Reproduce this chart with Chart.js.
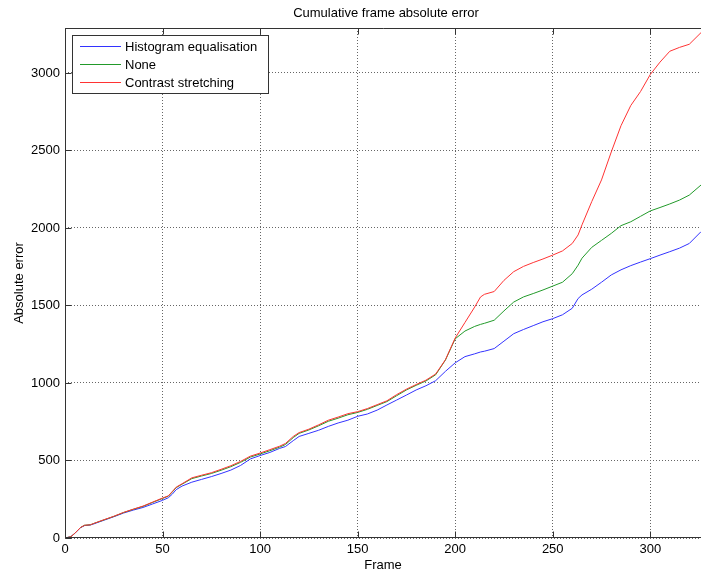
<!DOCTYPE html>
<html>
<head>
<meta charset="utf-8">
<title>Cumulative frame absolute error</title>
<script src="https://cdn.jsdelivr.net/npm/chart.js@4.4.0/dist/chart.umd.min.js"></script>
<style>
  html, body { margin: 0; padding: 0; background: #fff; overflow: hidden; }
  #wrap { position: relative; width: 701px; height: 574px; }
</style>
</head>
<body>
<div id="wrap"><canvas id="c" width="701" height="574"></canvas></div>
<script>
// Frame numbers at which the cumulative error was sampled
const frames = [0,3,5,8,10,13,15,20,25,30,35,40,45,50,53,55,57,60,65,70,75,80,85,90,95,100,
  105,110,113,117,120,125,130,135,140,145,150,155,160,165,170,175,180,185,190,195,200,
  205,210,213,215,220,225,230,235,240,245,250,255,260,263,265,270,275,280,285,290,295,300,
  305,310,315,320,326];

// Cumulative absolute error per pre-processing method
const histEq = [0,8,30,67,80,84,92,115,137,161,180,197,220,243,260,283,312,335,360,378,396,416,438,468,510,532,
  552,578,590,628,655,675,695,720,742,760,785,800,825,858,890,922,955,982,1015,1075,1130,
  1170,1188,1200,1205,1222,1270,1318,1345,1370,1395,1415,1440,1482,1545,1568,1605,1650,1697,1730,1757,1780,1802,
  1825,1847,1870,1900,1976];

const none = [0,8,30,68,82,85,95,117,139,164,185,204,230,255,270,297,325,347,383,400,416,437,460,488,522,542,
  563,586,603,648,675,697,724,753,773,795,810,830,855,880,918,955,985,1013,1053,1148,1285,
  1335,1365,1378,1385,1405,1465,1522,1555,1577,1600,1625,1650,1705,1760,1805,1875,1920,1965,2015,2040,2075,2110,
  2132,2155,2180,2212,2277];

const contrast = [0,8,30,68,82,85,95,118,140,165,186,206,232,258,272,300,328,350,388,405,421,443,466,494,528,548,
  570,592,610,655,680,702,730,760,780,802,815,835,860,885,925,960,990,1018,1058,1150,1290,
  1390,1490,1555,1572,1590,1662,1718,1752,1777,1800,1825,1852,1900,1955,2020,2170,2310,2490,2660,2790,2880,2990,
  3070,3140,3165,3185,3260];

const seriesNames = ['Histogram equalisation', 'None', 'Contrast stretching'];
const seriesColors = ['#3333ff', '#229a2a', '#ff3333'];
const xTicks = [0, 50, 100, 150, 200, 250, 300];
const yTicks = [0, 500, 1000, 1500, 2000, 2500, 3000];
const titleText = 'Cumulative frame absolute error';

const FONT = '"Liberation Sans", Arial, Helvetica, sans-serif';
const AXIS_COLOR = '#333';

Chart.defaults.font.family = FONT;
Chart.defaults.font.size = 13;
Chart.defaults.color = '#000';

function toPoints(values) {
  return frames.map((f, i) => ({ x: f, y: values[i] }));
}

const seriesValues = [histEq, none, contrast];
const datasets = seriesValues.map((vals, i) => ({
  label: seriesNames[i],
  data: toPoints(vals),
  borderColor: seriesColors[i],
  backgroundColor: seriesColors[i],
  borderWidth: 1,
  pointRadius: 0,
  tension: 0,
  fill: false,
  order: 2 - i
}));

// Axes box, inward tick marks, title and boxed legend
const matlabAxes = {
  id: 'matlabAxes',
  afterDraw(chart) {
    const { ctx, chartArea: a, scales: { x, y } } = chart;
    ctx.save();
    ctx.strokeStyle = AXIS_COLOR;
    ctx.lineWidth = 1;
    const L = Math.round(a.left) + 0.5, R = Math.round(a.right) + 0.5;
    const T = Math.round(a.top) + 0.5, B = Math.round(a.bottom) - 0.5;
    ctx.beginPath();
    ctx.moveTo(R + 10, T); ctx.lineTo(L, T); ctx.lineTo(L, B); ctx.lineTo(R + 10, B);
    ctx.stroke();
    const tl = 6;
    ctx.beginPath();
    xTicks.forEach(v => {
      const px = Math.round(x.getPixelForValue(v)) + 0.5;
      ctx.moveTo(px, B); ctx.lineTo(px, B - tl);
      ctx.moveTo(px, T); ctx.lineTo(px, T + tl);
    });
    yTicks.forEach(v => {
      const py = Math.round(y.getPixelForValue(v)) + 0.5;
      ctx.moveTo(L, py); ctx.lineTo(L + tl, py);
    });
    ctx.stroke();

    // title
    ctx.fillStyle = '#000';
    ctx.font = '13px ' + FONT;
    ctx.textAlign = 'center';
    ctx.textBaseline = 'middle';
    ctx.fillText(titleText, 386, 13);

    // legend
    const bx = 72.5, by = 35.5, bw = 196, bh = 58;
    ctx.fillStyle = '#fff';
    ctx.fillRect(bx, by, bw, bh);
    ctx.strokeStyle = AXIS_COLOR;
    ctx.strokeRect(bx, by, bw, bh);
    chart.data.datasets.forEach((ds, i) => {
      const ly = Math.round(by + 10 + i * 18) + 0.5;
      ctx.strokeStyle = ds.borderColor;
      ctx.beginPath();
      ctx.moveTo(80, ly); ctx.lineTo(121, ly);
      ctx.stroke();
      ctx.fillStyle = '#000';
      ctx.textAlign = 'left';
      ctx.textBaseline = 'middle';
      ctx.fillText(ds.label, 125, ly + 0.5);
    });
    ctx.restore();
  }
};

new Chart(document.getElementById('c'), {
  type: 'line',
  data: { datasets },
  options: {
    responsive: false,
    animation: false,
    devicePixelRatio: 1,
    layout: { padding: { top: 28, right: 0, left: 0, bottom: 0 } },
    plugins: { legend: { display: false }, title: { display: false }, tooltip: { enabled: false } },
    scales: {
      x: {
        type: 'linear',
        min: 0, max: 326,
        afterFit(s) { s.height = 36; },
        afterBuildTicks(s) { s.ticks = xTicks.map(v => ({ value: v })); },
        ticks: { padding: 4, maxRotation: 0, color: '#000', font: { size: 13 }, callback: v => String(v) },
        grid: { color: '#666', drawTicks: false, lineWidth: 1 },
        border: { display: false, dash: [1, 2] },
        title: { display: true, text: 'Frame', color: '#000', font: { size: 13 }, padding: { top: 0, bottom: 1 } }
      },
      y: {
        type: 'linear',
        min: 0, max: 3290,
        afterFit(s) { s.width = 65; },
        afterBuildTicks(s) { s.ticks = yTicks.map(v => ({ value: v })); },
        ticks: { padding: 5, color: '#000', font: { size: 13 }, callback: v => String(v) },
        grid: { color: '#666', drawTicks: false, lineWidth: 1 },
        border: { display: false, dash: [1, 2] },
        title: { display: true, text: 'Absolute error', color: '#000', font: { size: 13 }, padding: { top: 12, bottom: 0 } }
      }
    }
  },
  plugins: [matlabAxes]
});
</script>
</body>
</html>
